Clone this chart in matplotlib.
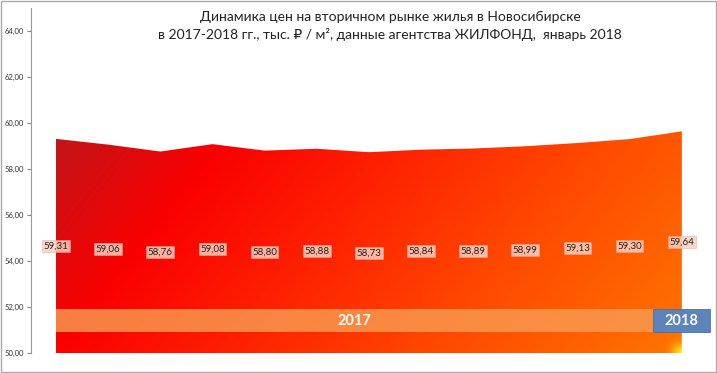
import matplotlib
matplotlib.use("Agg")
import matplotlib.pyplot as plt
import numpy as np
from matplotlib.colors import LinearSegmentedColormap
from matplotlib.patches import Rectangle, PathPatch

plt.rcParams['font.family'] = ['Lato', 'DejaVu Sans']

months = list(range(13))
prices = [59.31, 59.06, 58.76, 59.08, 58.80, 58.88, 58.73, 58.84, 58.89, 58.99, 59.13, 59.30, 59.64]
labels = ['59,31', '59,06', '58,76', '59,08', '58,80', '58,88', '58,73',
          '58,84', '58,89', '58,99', '59,13', '59,30', '59,64']
yticks = [50, 52, 54, 56, 58, 60, 62, 64]
ytick_labels = ['50,00', '52,00', '54,00', '56,00', '58,00', '60,00', '62,00', '64,00']
title = ('Динамика цен на вторичном рынке жилья в Новосибирске\n'
         'в 2017-2018 гг., тыс. ₽ / м², данные агентства ЖИЛФОНД,  январь 2018')

fig = plt.figure(figsize=(7.17, 3.73), dpi=100)
ax = fig.add_axes([31 / 717, 20 / 373, 679 / 717, 345 / 373])
ax.set_xlim(-0.479, 12.54)
ax.set_ylim(50, 65)

# gradient fill clipped to the area (diagonal, dark red -> orange, yellow spot in corner)
fill = ax.fill_between(months, prices, 50, color='none', lw=0)
cmap = LinearSegmentedColormap.from_list('g', [
    (0.0, '#c0161a'), (0.22, '#fa0000'), (0.45, '#ff2200'),
    (0.7, '#ff4a00'), (1.0, '#ff7400')])
gx, gy = np.meshgrid(np.linspace(0, 1, 600), np.linspace(0, 1, 220))
t = (gx * 626 + (1 - gy) * 180) / 806
rgba = cmap(t)
spot = np.exp(-(((gx - 1) * 626 / 9) ** 2 + (gy * 223 / 9) ** 2))[..., None]
rgba[..., :3] = rgba[..., :3] * (1 - spot) + np.array([1.0, 0.9, 0.1]) * spot
im = ax.imshow(rgba, extent=[0, 12, 50, 59.7], origin='lower', aspect='auto', zorder=1)
clip = PathPatch(fill.get_paths()[0], transform=ax.transData,
                 facecolor='none', edgecolor='none')
ax.add_patch(clip)
im.set_clip_path(clip)

# year bands
ax.add_patch(Rectangle((0, 50.9), 11.44, 1.0, facecolor='#f99a50', alpha=0.82,
                       edgecolor='none', zorder=3))
ax.text(5.72, 51.4, '2017', color='white', fontsize=10.5, fontweight='bold',
        ha='center', va='center', zorder=4)
ax.add_patch(Rectangle((11.44, 50.9), 1.1, 1.0, facecolor='#5c84ba',
                       edgecolor='#4a70a0', lw=0.6, zorder=3, clip_on=False))
ax.text(11.99, 51.4, '2018', color='white', fontsize=10.5, fontweight='bold',
        ha='center', va='center', zorder=4)

# data labels
for x, v, s in zip(months, prices, labels):
    ly = 54.65 + (v - prices[0]) * 0.5
    ax.text(x, ly, s, fontsize=7, ha='center', va='center', color='#222222', zorder=5,
            bbox=dict(boxstyle='square,pad=0.15', facecolor='#fcd0c0', alpha=0.85,
                      edgecolor='#e8a898', lw=0.4))

ax.set_yticks(yticks)
ax.set_yticklabels(ytick_labels, fontsize=5.5, color='#333333')
ax.tick_params(axis='y', length=3, width=0.8, color='#888888', pad=2)
ax.set_xticks([])
for s in ['top', 'right', 'bottom']:
    ax.spines[s].set_visible(False)
ax.spines['left'].set_color('#999999')

fig.text(390 / 717, 1 - 26 / 373, title, ha='center', va='center', fontsize=10,
         linespacing=1.4, color='#222222')
fig.patches.append(Rectangle((0.001, 0.002), 0.997, 0.995, transform=fig.transFigure,
                             fill=False, edgecolor='#aaaaaa', lw=1))

fig.savefig('out.png', dpi=100)
